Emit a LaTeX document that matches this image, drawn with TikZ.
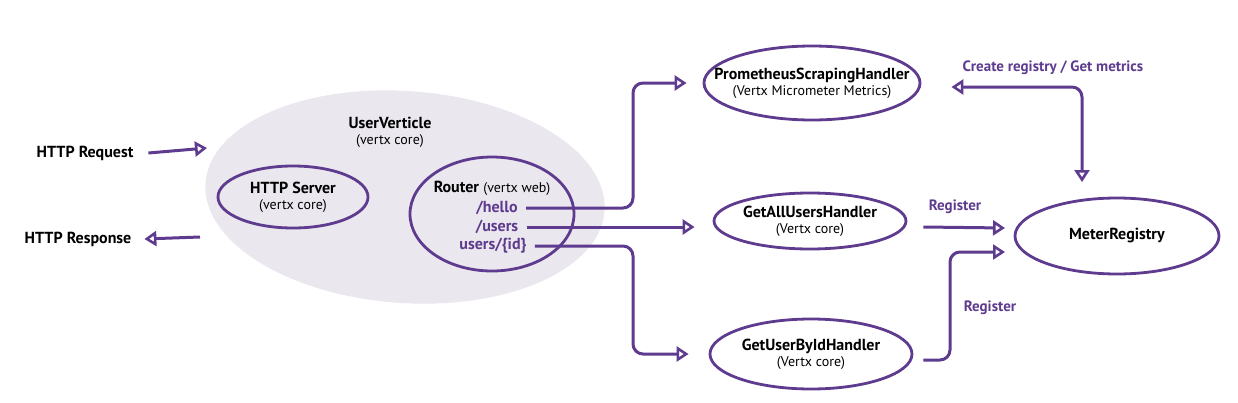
\documentclass[tikz,border=0pt]{standalone}
\usepackage{fontspec}
\setmainfont{PT Sans}
\usetikzlibrary{arrows.meta,shapes.geometric,calc}
\definecolor{vpurple}{HTML}{5E3B8E}
\definecolor{blobfill}{HTML}{EAE7EF}
\tikzset{
  conn/.style={draw=vpurple, line width=1.5pt, rounded corners=5pt,
    -{Triangle[open,length=6pt,width=7.5pt,line width=1.3pt]}},
  dconn/.style={conn, {Triangle[open,length=6pt,width=7.5pt,line width=1.3pt]}-{Triangle[open,length=6pt,width=7.5pt,line width=1.3pt]}},
  comp/.style={ellipse, draw=vpurple, line width=1.4pt, inner sep=0pt},
  ctext/.style={align=center, inner sep=0pt, font=\fontsize{8}{9}\selectfont},
  lbl/.style={font=\fontsize{8}{9}\selectfont\bfseries, text=black},
  plbl/.style={font=\fontsize{7.5}{9}\selectfont\bfseries, text=vpurple},
  route/.style={font=\fontsize{8}{9}\selectfont\bfseries, text=vpurple, inner sep=1pt},
}
\newcommand{\sub}[1]{{\fontsize{7}{8}\selectfont #1}}
\begin{document}
\begin{tikzpicture}[x=0.5pt,y=-0.5pt]
\useasboundingbox (0,0) rectangle (1238,402);
% background blob
\node[ellipse, fill=blobfill, inner sep=0pt,
      minimum width=200pt, minimum height=106pt, rotate=-4] (blob) at (405,197) {};
\node[ctext] (uv) at (390,132) {\textbf{UserVerticle}\\[-1pt]\sub{(vertx core)}};

% HTTP server
\node[comp, minimum width=75pt, minimum height=31pt] (srv) at (293,197) {};
\node[ctext] (srvt) at (293,197) {\textbf{HTTP Server}\\[-1pt]\sub{(vertx core)}};

% Router
\node[comp, minimum width=82pt, minimum height=57pt] (router) at (492,214) {};
\node[font=\fontsize{8}{9}\selectfont, inner sep=1pt] (rt) at (492,188) {\textbf{Router} \sub{(vertx web)}};
\node[route] (hello) at (497,208) {/hello};
\node[route] (users) at (497,227) {/users};
\node[route] (usersid) at (493,246) {users/\{id\}};

% handlers
\node[comp, minimum width=108pt, minimum height=37pt] (prom) at (812,83) {};
\node[ctext] (promt) at (812,83) {\textbf{PrometheusScrapingHandler}\\[-1pt]\sub{(Vertx Micrometer Metrics)}};
\node[comp, minimum width=96pt, minimum height=28pt] (getall) at (810,221) {};
\node[ctext] (getallt) at (810,221) {\textbf{GetAllUsersHandler}\\[-1pt]\sub{(Vertx core)}};
\node[comp, minimum width=101pt, minimum height=35pt] (getone) at (811,354) {};
\node[ctext] (getonet) at (811,354) {\textbf{GetUserByIdHandler}\\[-1pt]\sub{(Vertx core)}};
\node[comp, minimum width=102pt, minimum height=38pt] (meter) at (1117,236) {};
\node[ctext] (metert) at (1117,236) {\textbf{MeterRegistry}};

% HTTP request / response
\node[lbl] (req) at (85,153) {HTTP Request};
\node[lbl] (resp) at (78,239) {HTTP Response};
\coordinate (reqend) at (207,148);
\coordinate (respstart) at (200,237);
\draw[conn] ([xshift=4pt]req.east) -- (reqend);
\draw[conn] (respstart) -- ([xshift=3pt]resp.east);

% routes
\coordinate (bus) at (633,0);
\draw[conn, shorten >=8pt] ([xshift=3pt]hello.east) -- (hello.east -| bus) |- (prom.west);
\draw[conn, shorten >=9pt] ([xshift=3pt]users.east) -- (users.east -| getall.west);
\draw[conn, shorten >=10pt] ([xshift=3pt]usersid.east) -- (usersid.east -| bus) |- (getone.west);

% registry links
\coordinate (regtop) at (1082,182);
\draw[dconn, shorten <=15pt] ([yshift=-2pt]prom.east) -| (regtop);
\node[plbl] (crlbl) at (1053,68) {Create registry / Get metrics};

\coordinate (reg1end) at (1005,228);
\draw[conn] ([xshift=8pt,yshift=-3pt]getall.east) -- (reg1end);
\node[plbl] (reglbl1) at (955,207) {Register};

\coordinate (reg2end) at (1005,252);
\coordinate (reg2bus) at (950,0);
\draw[conn] ([xshift=5pt,yshift=-3pt]getone.east) -- ([yshift=-3pt]getone.east -| reg2bus) |- (reg2end);
\node[plbl] (reglbl2) at (990,308) {Register};
\end{tikzpicture}
\end{document}
